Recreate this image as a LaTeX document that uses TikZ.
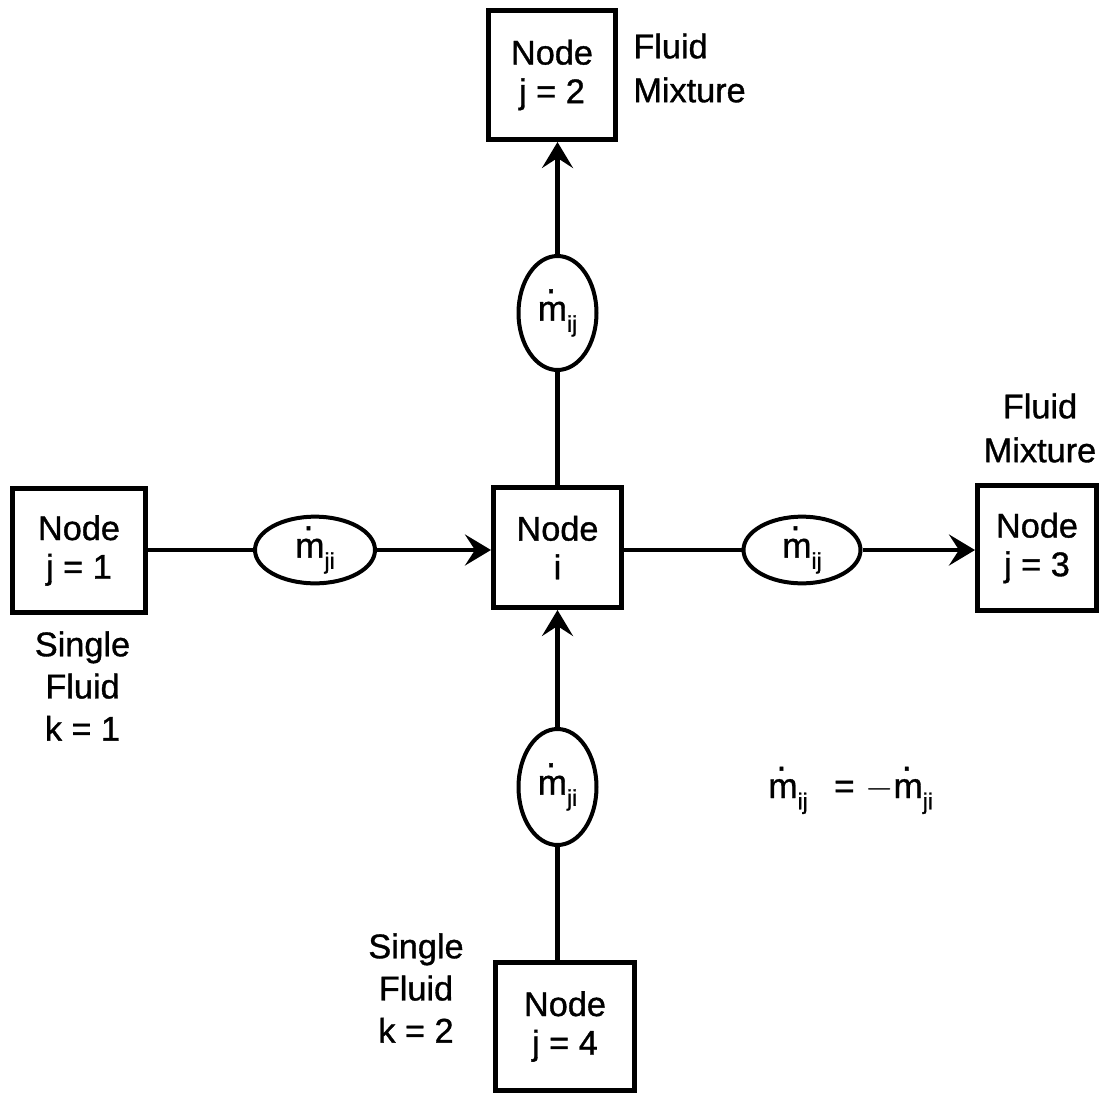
\documentclass[tikz,border=0pt]{standalone}
\usepackage{fontspec}
\setmainfont{Liberation Sans}[FakeBold=1]
\usetikzlibrary{shapes.geometric,arrows.meta}
\newcommand\mdotsym{\leavevmode\hbox{m\llap{\raisebox{0.78em}{.}\hspace{0.32em}}}}
\newcommand\mflow[1]{\mdotsym\raisebox{-0.32em}{\fontsize{13}{13}\selectfont #1}}
\begin{document}
\begin{tikzpicture}[
  box/.style={draw, line width=0.1cm, inner sep=0pt, align=center,
    font=\fontsize{19.5}{22}\selectfont},
  flow/.style={draw, ellipse, line width=0.08cm, inner sep=0pt,
    font=\fontsize{20}{20}\selectfont},
  lbl/.style={inner sep=0pt, font=\fontsize{19.5}{25}\selectfont},
  conn/.style={line width=0.085cm},
  arr/.style={conn, -{Stealth[length=0.52cm, width=0.62cm, inset=0.2cm]}}
]
\useasboundingbox (0,0) rectangle (22.04,-21.9);
% boxes
\node[box, minimum width=2.54cm, minimum height=2.58cm] (j2) at (11.04,-1.50) {Node\\j = 2};
\node[box, minimum width=2.56cm, minimum height=2.40cm] (i)  at (11.15,-10.95) {Node\\i};
\node[box, minimum width=2.66cm, minimum height=2.48cm] (j1) at (1.58,-11.01) {Node\\j = 1};
\node[box, minimum width=2.38cm, minimum height=2.50cm] (j3) at (20.74,-10.96) {Node\\j = 3};
\node[box, minimum width=2.78cm, minimum height=2.56cm] (j4) at (11.30,-20.53) {Node\\j = 4};
% flow ellipses
\node[flow, minimum width=1.56cm, minimum height=2.28cm] (e2) at (11.15,-6.26) {\mflow{ij}};
\node[flow, minimum width=2.40cm, minimum height=1.24cm] (e1) at (6.30,-11.00) {\mflow{ji}};
\node[flow, minimum width=2.34cm, minimum height=1.20cm] (e3) at (16.04,-11.00) {\mflow{ij}};
\node[flow, minimum width=1.56cm, minimum height=2.32cm] (e4) at (11.15,-15.74) {\mflow{ji}};
% connectors
\draw[conn] (i.north) -- (e2.south);
\draw[arr] (e2.north) -- (e2.north |- j2.south);
\draw[conn] (j1.east |- e1.west) -- (e1.west);
\draw[arr] (e1.east) -- (e1.east -| i.west);
\draw[conn] (i.east |- e3.west) -- (e3.west);
\draw[arr] (e3.east) -- (e3.east -| j3.west);
\draw[conn] (e4.south |- j4.north) -- (e4.south);
\draw[arr] (e4.north) -- (i.south);
% labels
\node[lbl, align=left, anchor=west] (t2) at (12.66,-1.36) {Fluid\\Mixture};
\node[lbl, align=center] (t3) at (20.80,-8.56) {Fluid\\Mixture};
\node[lbl, align=center, font=\fontsize{19.5}{24}\selectfont] (t1) at (1.65,-13.72) {Single\\Fluid\\k = 1};
\node[lbl, align=center, font=\fontsize{19.5}{24}\selectfont] (t4) at (8.32,-19.76) {Single\\Fluid\\k = 2};
\node[inner sep=0pt, anchor=base west, font=\fontsize{20}{20}\selectfont] (eq) at (15.36,-15.96) {\mflow{ij}\hspace{0.75em}=\hspace{0.3em}$-$\mflow{ji}};
\end{tikzpicture}
\end{document}
